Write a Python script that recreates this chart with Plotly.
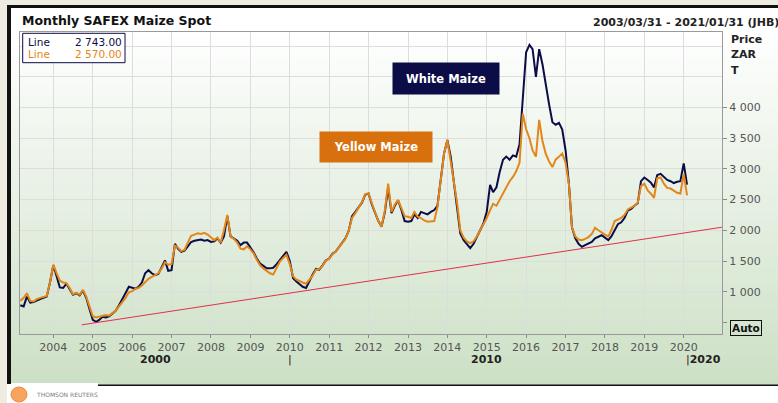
import plotly.graph_objects as go
import pandas as pd

# ---------------- data ----------------
white_maize = [
    780, 760, 920, 820, 830, 860, 880, 900, 920, 1150,
    1430, 1250, 1070, 1060, 1130, 1040, 950, 975, 940, 1020, 900, 720,
    540, 510, 540, 590, 580, 600, 640, 690, 780, 870, 980, 1080,
    1060, 1050, 1080, 1150, 1300, 1350, 1300, 1270, 1290, 1400, 1510, 1340,
    1350, 1780, 1700, 1650, 1670, 1740, 1810, 1830, 1840, 1850, 1830, 1840,
    1810, 1820, 1870, 1800, 1900, 2230, 1900, 1860, 1830, 1760, 1800, 1800,
    1730, 1640, 1540, 1460, 1420, 1380, 1380, 1390, 1450, 1520, 1580, 1650,
    1500, 1220, 1170, 1130, 1080, 1060, 1180, 1280, 1370, 1360, 1430, 1510,
    1540, 1620, 1650, 1720, 1790, 1870, 1990, 2230, 2300, 2380, 2450, 2580,
    2600, 2420, 2300, 2150, 2060, 2300, 2700, 2280, 2400, 2490, 2330, 2150,
    2140, 2150, 2260, 2200, 2300, 2280, 2260, 2300, 2330, 2400, 2800, 3250,
    3470, 3200, 2800, 2400, 1950, 1840, 1780, 1710, 1780, 1890, 2000, 2110,
    2300, 2740, 2620, 2700, 2950, 3150, 3200, 3150, 3220, 3200, 3400, 4200,
    4900, 5020, 4950, 4500, 4950, 4700, 4350, 4050, 3760, 3720, 3750, 3640,
    3300, 2750, 2050, 1870, 1780, 1730, 1760, 1790, 1810, 1870, 1900, 1920,
    1880, 1840, 1900, 2000, 2100, 2130, 2200, 2320, 2350, 2400, 2440, 2800,
    2860, 2820, 2780, 2700, 2900, 2920, 2870, 2820, 2800, 2770, 2790, 2800,
    3090, 2743,
]
yellow_maize = [
    850, 900, 975, 850, 840, 880, 900, 910, 930, 1150,
    1440, 1300, 1180, 1150, 1140, 1060, 960, 980, 950, 1030, 920, 760,
    600, 580, 590, 610, 620, 610, 650, 690, 760, 820, 900, 990,
    1010, 1050, 1060, 1100, 1160, 1210, 1240, 1270, 1300, 1380, 1480, 1440,
    1450, 1750, 1720, 1660, 1680, 1800, 1910, 1930, 1950, 1940, 1960, 1930,
    1880, 1840, 1880, 1800, 2000, 2250, 1900, 1860, 1800, 1700, 1690, 1740,
    1690, 1620, 1520, 1430, 1380, 1340, 1300, 1280, 1380, 1490, 1550, 1600,
    1450, 1250, 1200, 1170, 1150, 1130, 1200, 1260, 1360, 1370, 1420, 1500,
    1540, 1610, 1650, 1720, 1780, 1860, 1990, 2200, 2280, 2380, 2460, 2590,
    2600, 2440, 2300, 2150, 2060, 2330, 2760, 2300, 2420, 2490, 2360, 2230,
    2220, 2200, 2300, 2220, 2200, 2160, 2140, 2150, 2150, 2380, 2800, 3250,
    3470, 3150, 2800, 2450, 2000, 1880, 1820, 1790, 1820, 1900, 2000, 2110,
    2200, 2330, 2430, 2400, 2500, 2600, 2700, 2800, 2870, 2960, 3100, 3900,
    3650, 3500, 3300, 3200, 3800, 3450, 3250, 3120, 3030, 3150, 3200, 3250,
    3100, 2750, 2050, 1900, 1850, 1840, 1860, 1890, 1940, 2040, 2000, 1960,
    1930, 1900, 2000, 2150, 2180, 2200, 2250, 2340, 2370, 2400, 2450, 2720,
    2760, 2650, 2600, 2530, 2850, 2860, 2760, 2690, 2680, 2640, 2610, 2600,
    2920, 2570,
]
months = pd.date_range("2003-03-01", periods=len(white_maize), freq="MS")

trend_dates = ["2004-09-20", "2020-12-20"]
trend_values = [460, 2050]

year_ticks = [f"{y}-01-01" for y in range(2004, 2022)]
year_labels = [str(y) for y in range(2004, 2021)] + [""]
price_ticks = [500, 1000, 1500, 2000, 2500, 3000, 3500, 4000]
price_labels = ["", "1 000", "1 500", "2 000", "2 500", "3 000", "3 500", "4 000"]
decade_labels = [("2006-08-01", "<b>2000</b>"), ("2010-01-01", "|"),
                 ("2015-01-01", "<b>2010</b>"), ("2020-01-01", "|<b>2020</b>")]

title_text = "Monthly SAFEX Maize Spot"
range_text = "2003/03/31 - 2021/01/31 (JHB)"

# ---------------- layout helpers ----------------
L, R, T, B = 20, 722, 32, 334
def px(x):
    return (x - L) / (R - L)
def py(y):
    return (B - y) / (B - T)

FONT = "DejaVu Sans"
NAVY = "#0c0c46"
ORANGE = "#e3861a"

fig = go.Figure()
fig.add_trace(go.Scatter(x=months, y=white_maize, mode="lines",
                         line=dict(color=NAVY, width=2), name="White Maize"))
fig.add_trace(go.Scatter(x=months, y=yellow_maize, mode="lines",
                         line=dict(color=ORANGE, width=2), name="Yellow Maize"))
fig.add_trace(go.Scatter(x=trend_dates, y=trend_values, mode="lines",
                         line=dict(color="#e0304a", width=1), name="Trend"))

shapes = []
shapes.append(dict(type="rect", xref="paper", yref="paper", x0=px(11), x1=px(790),
                   y0=py(8), y1=py(30), fillcolor="white", line_width=0, layer="below"))
N = 60
y_top, y_bot = 30, 385
c0, c1 = (255, 255, 255), (204, 224, 197)
for i in range(N):
    ya = y_top + (y_bot - y_top) * i / N
    yb = y_top + (y_bot - y_top) * (i + 1) / N + 0.5
    f = (i + 0.5) / N
    col = "rgb(%d,%d,%d)" % tuple(round(c0[k] + (c1[k] - c0[k]) * f) for k in range(3))
    shapes.append(dict(type="rect", xref="paper", yref="paper", x0=px(11), x1=px(790),
                       y0=py(ya), y1=py(yb), fillcolor=col, line_width=0, layer="below"))
shapes.append(dict(type="rect", xref="paper", yref="paper", x0=px(7), x1=px(790),
                   y0=py(386), y1=py(410), fillcolor="white", line_width=0, layer="below"))
shapes.append(dict(type="rect", xref="paper", yref="paper", x0=px(7), x1=px(98),
                   y0=py(383), y1=py(387), fillcolor="white", line_width=0, layer="below"))
shapes.append(dict(type="rect", xref="paper", yref="paper", x0=px(7), x1=px(790),
                   y0=py(5), y1=py(8), fillcolor="#111111", line_width=0, layer="below"))
shapes.append(dict(type="rect", xref="paper", yref="paper", x0=px(7), x1=px(11),
                   y0=py(5), y1=py(384), fillcolor="#111111", line_width=0, layer="below"))
shapes.append(dict(type="rect", xref="paper", yref="paper", x0=px(98), x1=px(790),
                   y0=py(384.5), y1=py(386), fillcolor="#111111", line_width=0, layer="below"))
shapes.append(dict(type="rect", xref="paper", yref="paper", x0=px(22.7), x1=px(125),
                   y0=py(33.3), y1=py(62.7), fillcolor="white",
                   line=dict(color=NAVY, width=1)))
shapes.append(dict(type="circle", xref="paper", yref="paper", x0=px(11), x1=px(27),
                   y0=py(387), y1=py(402), fillcolor="#f6a45e", line=dict(color="#f08a3a", width=1)))

ann = []
ann.append(dict(text=f"<b>{title_text}</b>", x=px(20), y=py(21), xref="paper", yref="paper",
                xanchor="left", yanchor="middle", showarrow=False,
                font=dict(family=FONT, size=12.5, color="#111111")))
ann.append(dict(text=f"<b>{range_text}</b>", x=px(781), y=py(22), xref="paper", yref="paper",
                xanchor="right", yanchor="middle", showarrow=False,
                font=dict(family=FONT, size=11, color="#222222")))
for i, t in enumerate(["Price", "ZAR", "T"]):
    ann.append(dict(text=f"<b>{t}</b>", x=px(729), y=py(39.5 + 15.5 * i), xref="paper", yref="paper",
                    xanchor="left", yanchor="middle", showarrow=False,
                    font=dict(family=FONT, size=11, color="#222222")))
for i, (vals, col) in enumerate([(white_maize, NAVY), (yellow_maize, ORANGE)]):
    yy = py(42.3 + 12 * i)
    ann.append(dict(text="Line", x=px(25.5), y=yy, xref="paper", yref="paper",
                    xanchor="left", yanchor="middle", showarrow=False,
                    font=dict(family=FONT, size=10.5, color=col)))
    ann.append(dict(text=f"{vals[-1]:,.2f}".replace(",", " "), x=px(124), y=yy,
                    xref="paper", yref="paper", xanchor="right", yanchor="middle",
                    showarrow=False, font=dict(family=FONT, size=10.5, color=col)))
ann.append(dict(text="<b>White Maize</b>", x=px(446), y=py(78.5), xref="paper", yref="paper",
                xanchor="center", yanchor="middle", showarrow=False, width=106, height=31,
                bgcolor=NAVY, borderpad=0, font=dict(family=FONT, size=11.5, color="white")))
ann.append(dict(text="<b>Yellow Maize</b>", x=px(376), y=py(147), xref="paper", yref="paper",
                xanchor="center", yanchor="middle", showarrow=False, width=112, height=30,
                bgcolor="#d8700e", borderpad=0, font=dict(family=FONT, size=11.5, color="white")))
ann.append(dict(text="<b>Auto</b>", x=px(730), y=py(327.8), xref="paper", yref="paper",
                xanchor="left", yanchor="middle", showarrow=False, borderpad=1,
                bordercolor="#111111", borderwidth=1,
                font=dict(family=FONT, size=10.5, color="#111111")))
for d, t in decade_labels:
    ann.append(dict(text=t, x=d, y=py(359), xref="x", yref="paper",
                    xanchor="left" if t.startswith("|") and len(t) > 1 else "center",
                    yanchor="middle", showarrow=False,
                    font=dict(family=FONT, size=11, color="#222222")))
ann.append(dict(text="THOMSON REUTERS", x=px(34), y=py(394.5), xref="paper", yref="paper",
                xanchor="left", yanchor="middle", showarrow=False,
                font=dict(family=FONT, size=6, color="#7a7a7a")))

fig.update_layout(
    width=778, height=403, autosize=False,
    margin=dict(l=L, r=778 - R, t=T, b=403 - B, pad=0),
    paper_bgcolor="#eeebe1", plot_bgcolor="rgba(0,0,0,0)",
    showlegend=False, shapes=shapes, annotations=ann,
    font=dict(family=FONT),
    xaxis=dict(type="date", range=["2003-02-26", "2020-12-21"],
               tickvals=year_ticks, ticktext=year_labels,
               ticks="outside", ticklen=3, tickcolor="#8a8a8a",
               showgrid=True, gridcolor="#dddddd", gridwidth=1,
               showline=True, linecolor="#9a9a9a", linewidth=1, mirror=True,
               tickfont=dict(family=FONT, size=11, color="#555555"), zeroline=False),
    yaxis=dict(side="right", range=[311, 5230],
               tickvals=price_ticks, ticktext=price_labels,
               ticks="outside", ticklen=4, tickcolor="#8a8a8a",
               showgrid=True, gridcolor="#dddddd", gridwidth=1,
               minor=dict(tickvals=[4500, 5000], showgrid=True, gridcolor="#dddddd", ticks=""),
               showline=True, linecolor="#9a9a9a", linewidth=1, mirror=True,
               tickfont=dict(family=FONT, size=11, color="#555555"), zeroline=False),
)

fig.write_html("out.html", config={"displayModeBar": False},
               post_script="document.body.style.margin='0';document.body.style.overflow='hidden';")
